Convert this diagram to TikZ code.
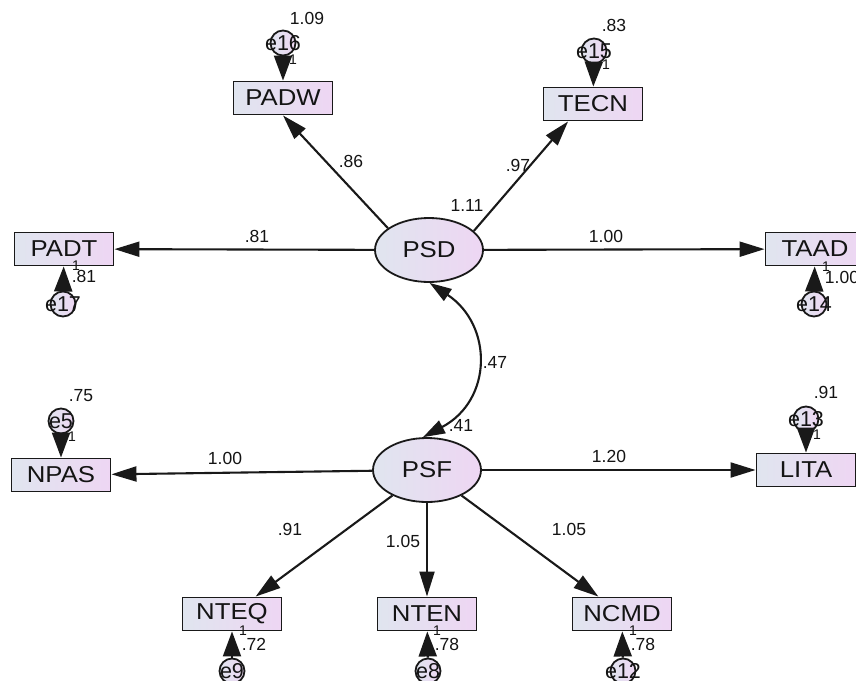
\documentclass[tikz,border=0pt]{standalone}
\usepackage{fontspec}
\setmainfont{Liberation Sans}
\newfontfamily\boxfont[FakeStretch=1.12]{Liberation Sans}
\usetikzlibrary{shapes.geometric,arrows.meta}
\definecolor{gfillL}{RGB}{224,229,239}
\definecolor{gfillR}{RGB}{238,214,243}
\definecolor{bordc}{RGB}{25,25,25}
\definecolor{txtc}{RGB}{20,20,20}
\tikzset{
 grad/.style={left color=gfillL, right color=gfillR},
 obs/.style={draw=bordc, line width=1.9pt, grad, minimum width=99pt, minimum height=33pt, inner sep=0pt, text=txtc, font=\boxfont\fontsize{23}{23}\selectfont},
 lat/.style={ellipse, draw=bordc, line width=1.8pt, grad, minimum width=108pt, minimum height=64pt, inner sep=0pt, text=txtc, font=\boxfont\fontsize{23}{23}\selectfont},
 err/.style={circle, draw=bordc, line width=1.8pt, grad, minimum size=25pt, inner sep=0pt},
 errtxt/.style={inner sep=0pt, text=txtc, font=\fontsize{21.5}{21.5}\selectfont},
 num/.style={inner sep=0pt, text=txtc, font=\fontsize{17.5}{17.5}\selectfont},
 one/.style={inner sep=0pt, text=txtc, font=\fontsize{14}{14}\selectfont},
 conn/.style={draw=bordc, line width=2.1pt, -{Triangle[length=25pt,width=15pt]}},
 econn/.style={draw=bordc, line width=2.1pt, -{Triangle[length=25pt,width=18pt]}},
 dconn/.style={draw=bordc, line width=2.1pt, {Triangle[length=22pt,width=14pt]}-{Triangle[length=22pt,width=14pt]}},
}
\begin{document}
\begin{tikzpicture}[x=1pt,y=-1pt]
\useasboundingbox (0,0) rectangle (856,680);
\fill[white] (0,0) rectangle (856,680);
% latent variables
\node[lat] (PSD) at (429,250) {PSD};
\node[lat] (PSF) at (427,470) {PSF};
% observed variables
\node[obs] (PADW) at (283,98) {PADW};
\node[obs] (TECN) at (593,104) {TECN};
\node[obs] (PADT) at (64,249) {PADT};
\node[obs] (TAAD) at (815,249) {TAAD};
\node[obs] (NPAS) at (61,475) {NPAS};
\node[obs] (LITA) at (806,470) {LITA};
\node[obs] (NTEQ) at (232,614) {NTEQ};
\node[obs] (NTEN) at (427,614) {NTEN};
\node[obs] (NCMD) at (622,614) {NCMD};
% error terms
\node[err] (e16) at (283,43) {};
\node[err] (e15) at (594,51) {};
\node[err] (e17) at (63,304) {};
\node[err] (e14) at (814,304) {};
\node[err] (e5) at (61,421) {};
\node[err] (e13) at (806,419) {};
\node[err] (e9) at (232,671) {};
\node[err] (e8) at (428,671) {};
\node[err] (e12) at (623,671) {};
% loadings
\draw[conn] (PSD.152) -- (PADW.south);
\draw[conn] (PSD.23) -- (TECN.215);
\draw[conn] (PSD) -- (PADT);
\draw[conn] (PSD) -- (TAAD);
\draw[conn] (PSF) -- (NPAS);
\draw[conn] (PSF) -- (LITA);
\draw[conn] (PSF) -- (NTEQ);
\draw[conn] (PSF) -- (NTEN);
\draw[conn] (PSF) -- (NCMD);
% covariance
\draw[dconn] (PSD.-89) .. controls (493,325) and (493,400) .. (PSF.97);
% error paths
\draw[econn] (e16) -- (PADW);
\draw[econn] (e15) -- (TECN);
\draw[econn] (e17) -- (PADT);
\draw[econn] (e14) -- (TAAD);
\draw[econn] (e5) -- (NPAS);
\draw[econn] (e13) -- (LITA);
\draw[econn] (e9) -- (NTEQ);
\draw[econn] (e8) -- (NTEN);
\draw[econn] (e12) -- (NCMD);
% error labels
\node[errtxt] (te16) at (e16) {e16};
\node[errtxt] (te15) at (e15) {e15};
\node[errtxt] (te17) at (e17) {e17};
\node[errtxt] (te14) at (e14) {e14};
\node[errtxt] (te5) at (e5) {e5};
\node[errtxt] (te13) at (e13) {e13};
\node[errtxt] (te9) at (e9) {e9};
\node[errtxt] (te8) at (e8) {e8};
\node[errtxt] (te12) at (e12) {e12};
% fixed-path ones
\node[one] (o16) at (293,60) {1};
\node[one] (o15) at (606,65) {1};
\node[one] (o17) at (76,266) {1};
\node[one] (o14) at (826,267) {1};
\node[one] (o5) at (72,437) {1};
\node[one] (o13) at (817,435) {1};
\node[one] (o9) at (243,631) {1};
\node[one] (o8) at (437,631) {1};
\node[one] (o12) at (633,631) {1};
% variances
\node[num] (v16) at (307,18) {1.09};
\node[num] (v15) at (614,25) {.83};
\node[num] (v17) at (84,276) {.81};
\node[num] (v14) at (842,277) {1.00};
\node[num] (v5) at (81,396) {.75};
\node[num] (v13) at (826,392) {.91};
\node[num] (v9) at (254,644) {.72};
\node[num] (v8) at (447,644) {.78};
\node[num] (v12) at (643,644) {.78};
\node[num] (vPSD) at (467,205) {1.11};
\node[num] (vPSF) at (461,425) {.41};
% coefficients
\node[num] (cPADW) at (351,161) {.86};
\node[num] (cTECN) at (518,165) {.97};
\node[num] (cPADT) at (257,236) {.81};
\node[num] (cTAAD) at (606,236) {1.00};
\node[num] (cCOV) at (495,362) {.47};
\node[num] (cNPAS) at (225,458) {1.00};
\node[num] (cLITA) at (609,456) {1.20};
\node[num] (cNTEQ) at (290,529) {.91};
\node[num] (cNTEN) at (403,541) {1.05};
\node[num] (cNCMD) at (569,529) {1.05};
\end{tikzpicture}
\end{document}
